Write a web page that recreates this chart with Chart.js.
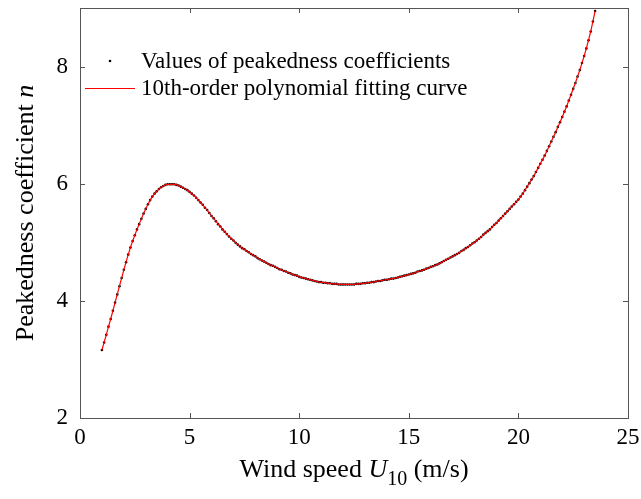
<!DOCTYPE html>
<html>
<head>
<meta charset="utf-8">
<script src="https://cdn.jsdelivr.net/npm/chart.js@4"></script>
<style>
  html, body { margin: 0; padding: 0; background: #fff; }
  #wrap { width: 641px; height: 499px; }
</style>
</head>
<body>
<div id="wrap"><canvas id="chart" width="641" height="499"></canvas></div>
<script>
// wind speed U10 (m/s), one value every 0.1 m/s
const windSpeed = [
  1.0, 1.1, 1.2, 1.3, 1.4, 1.5, 1.6, 1.7, 1.8, 1.9,
  2.0, 2.1, 2.2, 2.3, 2.4, 2.5, 2.6, 2.7, 2.8, 2.9,
  3.0, 3.1, 3.2, 3.3, 3.4, 3.5, 3.6, 3.7, 3.8, 3.9,
  4.0, 4.1, 4.2, 4.3, 4.4, 4.5, 4.6, 4.7, 4.8, 4.9,
  5.0, 5.1, 5.2, 5.3, 5.4, 5.5, 5.6, 5.7, 5.8, 5.9,
  6.0, 6.1, 6.2, 6.3, 6.4, 6.5, 6.6, 6.7, 6.8, 6.9,
  7.0, 7.1, 7.2, 7.3, 7.4, 7.5, 7.6, 7.7, 7.8, 7.9,
  8.0, 8.1, 8.2, 8.3, 8.4, 8.5, 8.6, 8.7, 8.8, 8.9,
  9.0, 9.1, 9.2, 9.3, 9.4, 9.5, 9.6, 9.7, 9.8, 9.9,
  10.0, 10.1, 10.2, 10.3, 10.4, 10.5, 10.6, 10.7, 10.8, 10.9,
  11.0, 11.1, 11.2, 11.3, 11.4, 11.5, 11.6, 11.7, 11.8, 11.9,
  12.0, 12.1, 12.2, 12.3, 12.4, 12.5, 12.6, 12.7, 12.8, 12.9,
  13.0, 13.1, 13.2, 13.3, 13.4, 13.5, 13.6, 13.7, 13.8, 13.9,
  14.0, 14.1, 14.2, 14.3, 14.4, 14.5, 14.6, 14.7, 14.8, 14.9,
  15.0, 15.1, 15.2, 15.3, 15.4, 15.5, 15.6, 15.7, 15.8, 15.9,
  16.0, 16.1, 16.2, 16.3, 16.4, 16.5, 16.6, 16.7, 16.8, 16.9,
  17.0, 17.1, 17.2, 17.3, 17.4, 17.5, 17.6, 17.7, 17.8, 17.9,
  18.0, 18.1, 18.2, 18.3, 18.4, 18.5, 18.6, 18.7, 18.8, 18.9,
  19.0, 19.1, 19.2, 19.3, 19.4, 19.5, 19.6, 19.7, 19.8, 19.9,
  20.0, 20.1, 20.2, 20.3, 20.4, 20.5, 20.6, 20.7, 20.8, 20.9,
  21.0, 21.1, 21.2, 21.3, 21.4, 21.5, 21.6, 21.7, 21.8, 21.9,
  22.0, 22.1, 22.2, 22.3, 22.4, 22.5, 22.6, 22.7, 22.8, 22.9,
  23.0, 23.1, 23.2, 23.3, 23.4, 23.5
]

// peakedness coefficient n
const peakN = [
  3.16, 3.29, 3.42, 3.56, 3.69, 3.83, 3.97, 4.11, 4.25, 4.39,
  4.53, 4.66, 4.79, 4.91, 5.02, 5.12, 5.22, 5.31, 5.40, 5.49,
  5.57, 5.65, 5.72, 5.78, 5.83, 5.87, 5.91, 5.94, 5.96, 5.98,
  5.99, 5.99, 5.99, 5.99, 5.98, 5.97, 5.95, 5.93, 5.91, 5.89,
  5.86, 5.83, 5.80, 5.76, 5.72, 5.68, 5.64, 5.59, 5.55, 5.50,
  5.45, 5.41, 5.36, 5.31, 5.27, 5.22, 5.18, 5.14, 5.10, 5.06,
  5.03, 4.99, 4.96, 4.93, 4.90, 4.88, 4.85, 4.83, 4.80, 4.78,
  4.76, 4.73, 4.71, 4.69, 4.67, 4.65, 4.63, 4.61, 4.60, 4.58,
  4.56, 4.54, 4.53, 4.51, 4.50, 4.48, 4.47, 4.45, 4.44, 4.43,
  4.41, 4.40, 4.39, 4.38, 4.37, 4.36, 4.35, 4.34, 4.33, 4.32,
  4.32, 4.31, 4.31, 4.30, 4.30, 4.29, 4.29, 4.29, 4.28, 4.28,
  4.28, 4.28, 4.28, 4.28, 4.28, 4.28, 4.29, 4.29, 4.29, 4.30,
  4.30, 4.31, 4.31, 4.32, 4.32, 4.33, 4.34, 4.34, 4.35, 4.36,
  4.36, 4.37, 4.38, 4.38, 4.39, 4.40, 4.41, 4.42, 4.43, 4.44,
  4.45, 4.46, 4.47, 4.48, 4.50, 4.51, 4.52, 4.53, 4.55, 4.56,
  4.58, 4.59, 4.61, 4.62, 4.64, 4.66, 4.68, 4.70, 4.72, 4.74,
  4.76, 4.78, 4.80, 4.82, 4.85, 4.87, 4.90, 4.92, 4.95, 4.98,
  5.00, 5.03, 5.06, 5.09, 5.13, 5.16, 5.19, 5.22, 5.26, 5.30,
  5.33, 5.37, 5.41, 5.45, 5.49, 5.53, 5.57, 5.61, 5.65, 5.69,
  5.73, 5.78, 5.83, 5.89, 5.95, 6.01, 6.07, 6.13, 6.20, 6.27,
  6.34, 6.41, 6.48, 6.56, 6.64, 6.72, 6.80, 6.88, 6.97, 7.05,
  7.14, 7.23, 7.32, 7.42, 7.52, 7.62, 7.72, 7.83, 7.94, 8.06,
  8.18, 8.31, 8.45, 8.60, 8.77, 8.95
]

// the fitted polynomial sits on top of the values, so it uses the same readings
const fitN = peakN

const xTicks = [0, 5, 10, 15, 20, 25]
const yTicks = [2, 4, 6, 8]
const pointLabel = "Values of peakedness coefficients"
const fitLabel = "10th-order polynomial fitting curve"

const serif = "'Liberation Serif', 'Times New Roman', serif"

const points = windSpeed.map((v, i) => ({ x: v, y: peakN[i] }))
const fitCurve = windSpeed.map((v, i) => ({ x: v, y: fitN[i] }))

// box, inward ticks, axis titles with italic/subscript parts, legend
const framePlugin = {
  id: "frame",
  afterDraw(chart) {
    const ctx = chart.ctx
    const a = chart.chartArea
    const xs = chart.scales.x
    const ys = chart.scales.y
    ctx.save()
    ctx.strokeStyle = "#555"
    ctx.lineWidth = 1
    ctx.strokeRect(Math.round(a.left) + 0.5, Math.round(a.top) + 0.5,
      Math.round(a.right - a.left), Math.round(a.bottom - a.top))
    ctx.beginPath()
    xTicks.slice(1, -1).forEach(v => {
      const px = Math.round(xs.getPixelForValue(v)) + 0.5
      ctx.moveTo(px, a.bottom); ctx.lineTo(px, a.bottom - 5)
      ctx.moveTo(px, a.top); ctx.lineTo(px, a.top + 5)
    })
    yTicks.slice(1).forEach(v => {
      const py = Math.round(ys.getPixelForValue(v)) + 0.5
      ctx.moveTo(a.left, py); ctx.lineTo(a.left + 5, py)
      ctx.moveTo(a.right, py); ctx.lineTo(a.right - 5, py)
    })
    ctx.stroke()

    ctx.fillStyle = "#000"
    ctx.textBaseline = "alphabetic"

    // x title: Wind speed U10 (m/s)
    const xParts = [
      { t: "Wind speed ", f: "26px " + serif, dy: 0 },
      { t: "U", f: "italic 26px " + serif, dy: 0 },
      { t: "10", f: "20px " + serif, dy: 8 },
      { t: " (m/s)", f: "26px " + serif, dy: 0 }
    ]
    let total = 0
    xParts.forEach(p => { ctx.font = p.f; p.w = ctx.measureText(p.t).width; total += p.w })
    let cx = (a.left + a.right) / 2 - total / 2
    xParts.forEach(p => {
      ctx.font = p.f
      ctx.textAlign = "left"
      ctx.fillText(p.t, cx, 477 + p.dy)
      cx += p.w
    })

    // y title: Peakedness coefficient n
    const yParts = [
      { t: "Peakedness coefficient ", f: "26px " + serif },
      { t: "n", f: "italic 26px " + serif }
    ]
    total = 0
    yParts.forEach(p => { ctx.font = p.f; p.w = ctx.measureText(p.t).width; total += p.w })
    ctx.save()
    ctx.translate(33, (a.top + a.bottom) / 2)
    ctx.rotate(-Math.PI / 2)
    let ty = -total / 2
    yParts.forEach(p => {
      ctx.font = p.f
      ctx.textAlign = "left"
      ctx.fillText(p.t, ty, 0)
      ty += p.w
    })
    ctx.restore()

    // legend
    ctx.font = "23px " + serif
    ctx.textAlign = "left"
    ctx.textBaseline = "middle"
    ctx.beginPath()
    ctx.arc(110, 61, 1.3, 0, Math.PI * 2)
    ctx.fill()
    ctx.fillText(pointLabel, 141, 62)
    ctx.strokeStyle = "#ff0000"
    ctx.beginPath()
    ctx.moveTo(85, 88.5); ctx.lineTo(135, 88.5)
    ctx.stroke()
    ctx.fillText(fitLabel, 141, 89)
    ctx.restore()
  }
}

const axisFont = { family: serif, size: 23 }

new Chart(document.getElementById("chart").getContext("2d"), {
  type: "scatter",
  data: {
    datasets: [
      {
        label: fitLabel,
        data: fitCurve,
        showLine: true,
        borderColor: "#ff0000",
        borderWidth: 1.2,
        pointRadius: 0,
        tension: 0,
        order: 0
      },
      {
        label: pointLabel,
        data: points,
        showLine: false,
        pointRadius: 1.3,
        pointBorderWidth: 0,
        pointBackgroundColor: "#000",
        order: 1
      }
    ]
  },
  options: {
    responsive: false,
    animation: false,
    devicePixelRatio: 1,
    layout: { padding: { left: 0, right: 13, top: 8, bottom: 0 } },
    plugins: { legend: { display: false }, tooltip: { enabled: false } },
    scales: {
      x: {
        type: "linear",
        min: 0,
        max: 25,
        afterBuildTicks: s => { s.ticks = xTicks.map(v => ({ value: v })) },
        afterFit: s => { s.height = 81; s.paddingLeft = 0; s.paddingRight = 0 },
        grid: { display: false, drawTicks: false },
        border: { display: false },
        ticks: { font: axisFont, color: "#000", padding: 6, maxRotation: 0 }
      },
      y: {
        type: "linear",
        min: 2,
        max: 9,
        afterBuildTicks: s => { s.ticks = yTicks.map(v => ({ value: v })) },
        afterFit: s => { s.width = 80; s.paddingTop = 0; s.paddingBottom = 0 },
        grid: { display: false, drawTicks: false },
        border: { display: false },
        ticks: { font: axisFont, color: "#000", padding: 12 }
      }
    }
  },
  plugins: [framePlugin]
})
</script>
</body>
</html>
